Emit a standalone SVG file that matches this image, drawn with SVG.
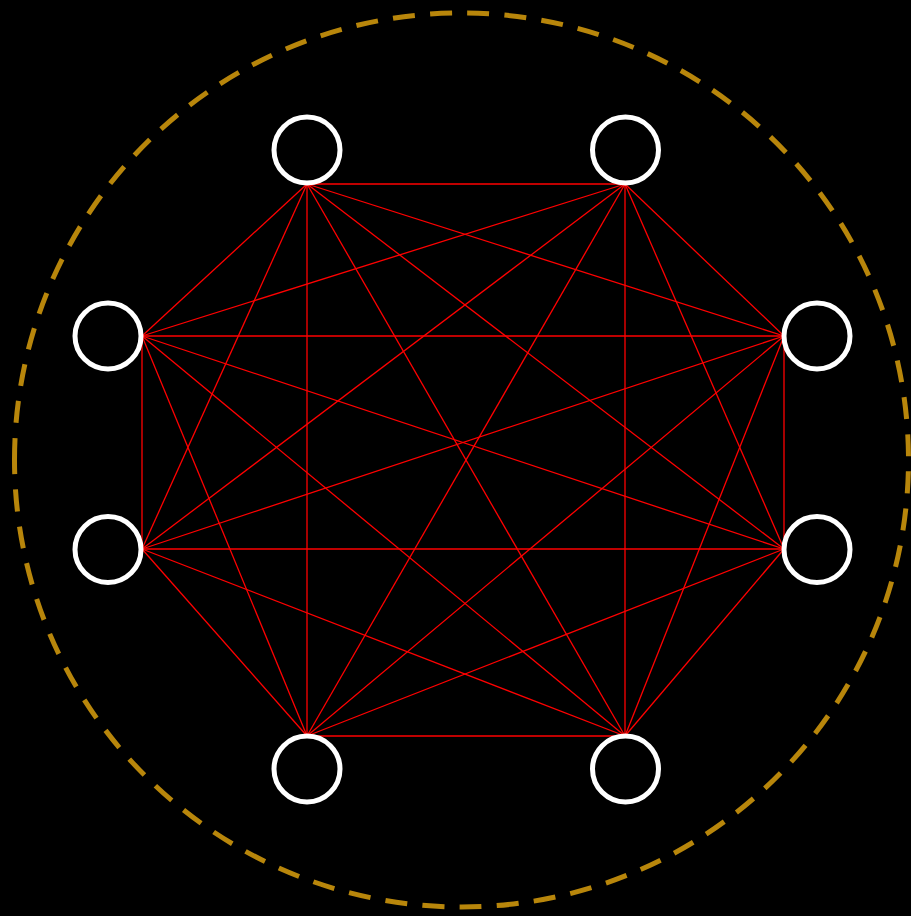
<svg xmlns="http://www.w3.org/2000/svg" width="911" height="916" viewBox="0 0 911 916">
<style>
.node{fill:none;stroke:#ffffff;stroke-width:5}
.edge{stroke:#ff0000;stroke-width:1.3;fill:none}
.ring{fill:none;stroke:#b8860b;stroke-width:5;stroke-dasharray:22 15.25}
</style>
<rect x="0" y="0" width="911" height="916" fill="#000000"/>
<path id="ring" class="ring" d="M 14.5 460 A 447 447 0 0 1 908.5 460 A 447 447 0 0 1 14.5 460 Z"/>
<g id="connectors">
<path class="edge" d="M307 184L625 184"/>
<path class="edge" d="M307 184L142 336"/>
<path class="edge" d="M307 184L784 336"/>
<path class="edge" d="M307 184L142 549"/>
<path class="edge" d="M307 184L784 549"/>
<path class="edge" d="M307 184L307 736"/>
<path class="edge" d="M307 184L625 736"/>
<path class="edge" d="M625 184L142 336"/>
<path class="edge" d="M625 184L784 336"/>
<path class="edge" d="M625 184L142 549"/>
<path class="edge" d="M625 184L784 549"/>
<path class="edge" d="M625 184L307 736"/>
<path class="edge" d="M625 184L625 736"/>
<path class="edge" d="M142 336L784 336"/>
<path class="edge" d="M142 336L142 549"/>
<path class="edge" d="M142 336L784 549"/>
<path class="edge" d="M142 336L307 736"/>
<path class="edge" d="M142 336L625 736"/>
<path class="edge" d="M784 336L142 549"/>
<path class="edge" d="M784 336L784 549"/>
<path class="edge" d="M784 336L307 736"/>
<path class="edge" d="M784 336L625 736"/>
<path class="edge" d="M142 549L784 549"/>
<path class="edge" d="M142 549L307 736"/>
<path class="edge" d="M142 549L625 736"/>
<path class="edge" d="M784 549L307 736"/>
<path class="edge" d="M784 549L625 736"/>
<path class="edge" d="M307 736L625 736"/>
</g>
<g id="node-top-left"><circle class="node" cx="307" cy="150" r="33"/></g>
<g id="node-top-right"><circle class="node" cx="625.5" cy="150" r="33"/></g>
<g id="node-left-top"><circle class="node" cx="108" cy="336" r="33"/></g>
<g id="node-right-top"><circle class="node" cx="817" cy="336" r="33"/></g>
<g id="node-left-bottom"><circle class="node" cx="108" cy="549.5" r="33"/></g>
<g id="node-right-bottom"><circle class="node" cx="817" cy="549.5" r="33"/></g>
<g id="node-bottom-left"><circle class="node" cx="307" cy="769" r="33"/></g>
<g id="node-bottom-right"><circle class="node" cx="625.5" cy="769" r="33"/></g>
</svg>
